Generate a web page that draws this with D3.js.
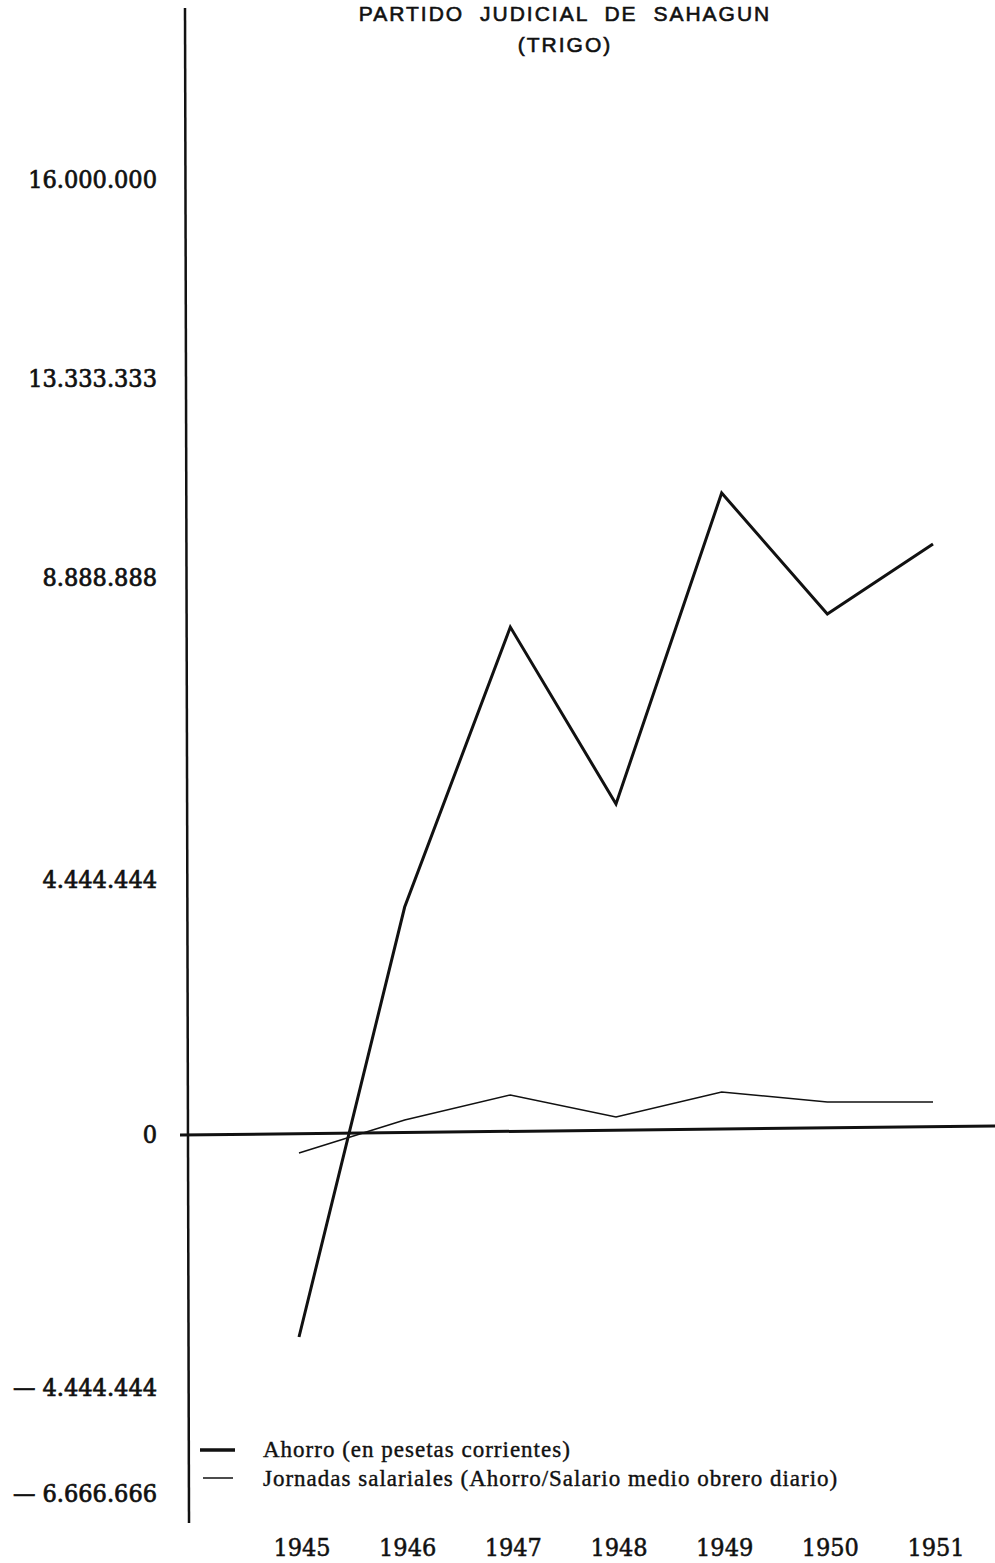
<!DOCTYPE html>
<html>
<head>
<meta charset="utf-8">
<script src="https://cdn.jsdelivr.net/npm/d3@7"></script>
<style>
  body { margin: 0; background: #fff; }
</style>
</head>
<body>
<div id="chart"></div>
<script>
const years = [1945, 1946, 1947, 1948, 1949, 1950, 1951];
const ahorro = [-3566000, 3956000, 8152000, 5548000, 10765000, 8344000, 9626000];
const jornadas = [-334000, 244000, 680000, 296000, 732000, 558000, 558000];
const tickValues = [16000000, 13333333, 8888888, 4444444, 0, -4444444, -6666666];
const tickLabels = ["16.000.000", "13.333.333", "8.888.888", "4.444.444", "0", "— 4.444.444", "— 6.666.666"];
const titleLines = ["PARTIDO JUDICIAL DE SAHAGUN", "(TRIGO)"];
const legendLabels = ["Ahorro (en pesetas corrientes)", "Jornadas salariales (Ahorro/Salario medio obrero diario)"];

const width = 995;
const height = 1563;
const axisX = 187;
const numFont = "'DejaVu Serif Condensed', 'Liberation Serif', serif";

const svg = d3.select("#chart")
              .append("svg")
              .attr("width", width)
              .attr("height", height);

// the original axis is hand drawn, the tick spacing is not even
const yScale = d3.scaleLinear()
                 .domain(tickValues)
                 .range([179, 378, 577, 879, 1134, 1387, 1493]);

const xScale = d3.scaleLinear()
                 .domain([1945, 1951])
                 .range([299, 933]);

// title
svg.selectAll(".title")
   .data(titleLines)
   .enter()
   .append("text")
   .attr("class", "title")
   .attr("x", 565)
   .attr("y", (d, i) => 21 + i * 31)
   .attr("text-anchor", "middle")
   .style("font-family", "'Liberation Sans', Arial, sans-serif")
   .style("font-size", "21px")
   .style("letter-spacing", "2px")
   .style("word-spacing", "8px")
   .style("fill", "#111")
   .style("stroke", "#111")
   .style("stroke-width", 0.6)
   .text(d => d);

// y axis line
svg.append("line")
   .attr("x1", axisX - 2).attr("y1", 8)
   .attr("x2", axisX + 2).attr("y2", 1523)
   .attr("stroke", "#111")
   .attr("stroke-width", 2.5);

// x axis line (slightly tilted like the scan)
svg.append("line")
   .attr("x1", 180).attr("y1", yScale(0) + 1)
   .attr("x2", width).attr("y2", yScale(0) - 8)
   .attr("stroke", "#111")
   .attr("stroke-width", 3);

// y labels
svg.selectAll(".ylabel")
   .data(tickValues)
   .enter()
   .append("text")
   .attr("class", "ylabel")
   .attr("x", 157)
   .attr("y", d => yScale(d))
   .attr("dy", "0.36em")
   .attr("text-anchor", "end")
   .style("font-family", numFont)
   .style("font-size", "25px")
   .style("fill", "#111")
   .style("stroke", "#111")
   .style("stroke-width", 0.7)
   .text((d, i) => tickLabels[i]);

// x labels
svg.selectAll(".xlabel")
   .data(years)
   .enter()
   .append("text")
   .attr("class", "xlabel")
   .attr("x", d => xScale(d) + 3)
   .attr("y", 1556)
   .attr("text-anchor", "middle")
   .style("font-family", numFont)
   .style("font-size", "25px")
   .style("fill", "#111")
   .style("stroke", "#111")
   .style("stroke-width", 0.5)
   .text(d => d);

const line = d3.line()
               .x(d => xScale(d[0]))
               .y(d => yScale(d[1]));

svg.append("path")
   .datum(years.map((y, i) => [y, ahorro[i]]))
   .attr("d", line)
   .attr("fill", "none")
   .attr("stroke", "#111")
   .attr("stroke-width", 3)
   .attr("stroke-linejoin", "miter");

svg.append("path")
   .datum(years.map((y, i) => [y, jornadas[i]]))
   .attr("d", line)
   .attr("fill", "none")
   .attr("stroke", "#111")
   .attr("stroke-width", 1.5);

// legend
const legend = svg.append("g")
                  .attr("transform", "translate(200, 1450)");

legend.selectAll("line")
      .data(legendLabels)
      .enter()
      .append("line")
      .attr("x1", (d, i) => i === 0 ? 0 : 3)
      .attr("x2", (d, i) => i === 0 ? 35 : 33)
      .attr("y1", (d, i) => i * 28)
      .attr("y2", (d, i) => i * 28)
      .attr("stroke", "#111")
      .attr("stroke-width", (d, i) => i === 0 ? 3.5 : 1.5);

legend.selectAll("text")
      .data(legendLabels)
      .enter()
      .append("text")
      .attr("x", 63)
      .attr("y", (d, i) => 7 + i * 29)
      .style("font-family", "'Liberation Serif', serif")
      .style("font-size", "23px")
      .style("letter-spacing", "1px")
      .style("fill", "#111")
      .style("stroke", "#111")
      .style("stroke-width", 0.4)
      .text(d => d);
</script>
</body>
</html>
